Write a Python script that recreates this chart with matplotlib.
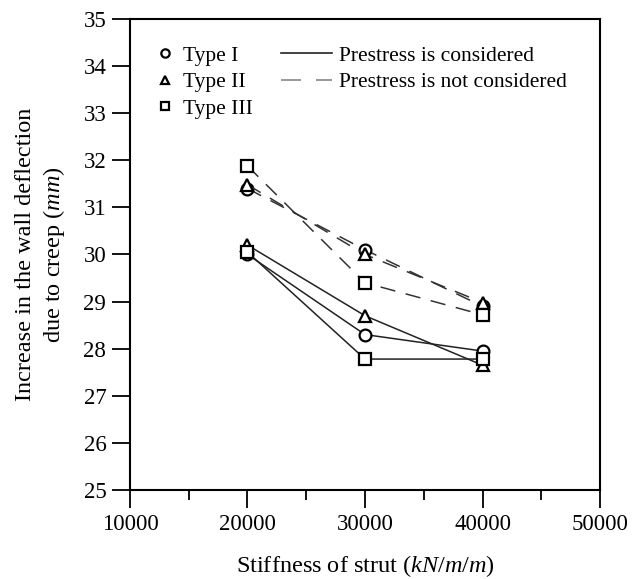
import matplotlib
matplotlib.use("Agg")
import matplotlib.pyplot as plt
from matplotlib.lines import Line2D
from matplotlib.ticker import MultipleLocator

plt.rcParams['font.family'] = ['Liberation Serif', 'DejaVu Serif']
plt.rcParams['mathtext.fontset'] = 'custom'
plt.rcParams['mathtext.rm'] = 'Liberation Serif'
plt.rcParams['mathtext.it'] = 'Liberation Serif:italic'

stiffness = [20000, 30000, 40000]
types = ["Type I", "Type II", "Type III"]
markers = ["o", "^", "s"]

# wall deflection increase due to creep (mm)
with_prestress = {
    "Type I":   [30.00, 28.30, 27.95],
    "Type II":  [30.20, 28.70, 27.65],
    "Type III": [30.05, 27.78, 27.78],
}
without_prestress = {
    "Type I":   [31.40, 30.10, 28.90],
    "Type II":  [31.48, 30.00, 28.98],
    "Type III": [31.88, 29.40, 28.72],
}

fig = plt.figure(figsize=(6.35, 5.79), dpi=100)
ax = fig.add_axes([0.2047, 0.1537, 0.7402, 0.8135])

for t, m in zip(types, markers):
    ax.plot(stiffness, without_prestress[t], color="#333333", lw=1.1,
            dashes=(10, 7), marker=m, ms=8.5, mfc="white", mec="black", mew=1.6)
    ax.plot(stiffness, with_prestress[t], color="#222222", lw=1.1,
            marker=m, ms=8.5, mfc="white", mec="black", mew=1.6)

ax.set_xlim(10000, 50000)
ax.set_ylim(25, 35)
ax.xaxis.set_major_locator(MultipleLocator(10000))
ax.xaxis.set_minor_locator(MultipleLocator(5000))
ax.yaxis.set_major_locator(MultipleLocator(1))
ax.tick_params(axis="both", which="major", direction="out", length=13, width=1.3,
               labelsize=16.5, pad=4)
ax.tick_params(axis="x", which="minor", direction="out", length=7, width=1.3)
for s in ax.spines.values():
    s.set_linewidth(1.5)

ax.set_xlabel(r"Stiffness of strut ($kN/m/m$)", fontsize=17.5, labelpad=13)
ax.set_ylabel("Increase in the wall deflection\n" + r"due to creep ($mm$)",
              fontsize=17.5, labelpad=12, linespacing=1.25)

type_handles = [Line2D([], [], ls="none", marker=m, ms=6, mfc="white", mec="black", mew=1.6)
                for m in markers]
leg1 = ax.legend(type_handles, types, loc="upper left", bbox_to_anchor=(0.041, 0.962),
                 frameon=False, fontsize=15.5, handlelength=0.7, handletextpad=0.45,
                 labelspacing=0.3, borderaxespad=0)
ax.add_artist(leg1)

line_handles = [Line2D([], [], color="#222222", lw=1.2),
                Line2D([], [], color="#888888", lw=1.2, dashes=(12, 9))]
ax.legend(line_handles, ["Prestress is considered", "Prestress is not considered"],
          loc="upper left", bbox_to_anchor=(0.302, 0.962), frameon=False, fontsize=15.5,
          handlelength=2.4, handletextpad=0.3, labelspacing=0.3, borderaxespad=0)

fig.savefig("out.png", dpi=100)
